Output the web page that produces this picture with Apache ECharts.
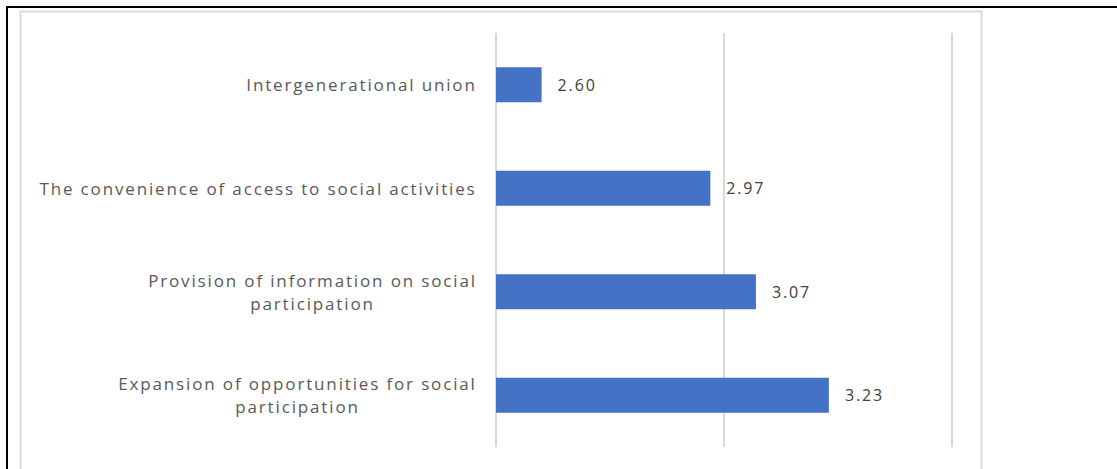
<!DOCTYPE html>
<html>
<head>
<meta charset="utf-8">
<script src="https://cdn.jsdelivr.net/npm/echarts@6/dist/echarts.min.js"></script>
<style>
  html, body { margin: 0; padding: 0; background: #fff; }
  #chart { width: 1117px; height: 469px; }
  /* wide tracking on every text run */
  #chart text { letter-spacing: 1.85px; }
</style>
</head>
<body>
<div id="chart"></div>
<script>
// Category labels (top to bottom) and their mean scores
const categories = [
  ['Intergenerational union'],
  ['The convenience of access to social activities'],
  ['Provision of information on social', 'participation'],
  ['Expansion of opportunities for social', 'participation']
];
const scores = [2.60, 2.97, 3.07, 3.23];
const axisMin = 2.5;
const axisMax = 3.5;
const axisStep = 0.5;

const FONT_SIZE = 17;
const TRACKING = 1.85;
const ctx = document.createElement('canvas').getContext('2d');
ctx.font = FONT_SIZE + 'px "Open Sans"';
const lineWidth = s => ctx.measureText(s).width + s.length * TRACKING;

// Each label block is as wide as its longest line; shorter lines are centred in it.
const labelNames = categories.map(lines => lines.join('\n'));
const labelWidths = categories.map(lines => Math.ceil(Math.max(...lines.map(lineWidth))));

const chart = echarts.init(document.getElementById('chart'), null, { renderer: 'svg' });
chart.setOption({
  animation: false,
  backgroundColor: '#ffffff',
  graphic: [
    { type: 'rect', shape: { x: 7, y: 7, width: 1300, height: 700 }, style: { fill: 'none', stroke: '#000', lineWidth: 2 }, silent: true },
    { type: 'rect', shape: { x: 20.5, y: 11.5, width: 961, height: 700 }, style: { fill: 'none', stroke: '#d9d9d9', lineWidth: 2 }, silent: true }
  ],
  grid: { left: 496, right: 165, top: 33, bottom: 22, containLabel: false },
  xAxis: {
    type: 'value',
    min: axisMin,
    max: axisMax,
    interval: axisStep,
    axisLabel: { show: false },
    axisLine: { show: false },
    axisTick: { show: false },
    splitLine: { show: true, lineStyle: { color: '#d9d9d9', width: 2 } }
  },
  yAxis: {
    type: 'category',
    inverse: true,
    data: labelNames,
    axisLine: { show: false },
    axisTick: { show: false },
    axisLabel: {
      margin: 19,
      formatter: (value, idx) => value.split('\n').map(l => '{t' + idx + '|' + l + '}').join('\n'),
      rich: Object.fromEntries(labelWidths.map((w, i) => ['t' + i, {
        width: w, align: 'center', fontFamily: 'Open Sans', fontSize: FONT_SIZE, color: '#595959', lineHeight: 23
      }]))
    }
  },
  series: [{
    type: 'bar',
    data: scores,
    barWidth: 35,
    itemStyle: { color: '#4472c4' },
    label: {
      show: true,
      position: 'right',
      distance: 16,
      formatter: p => p.value.toFixed(2),
      fontFamily: 'Open Sans',
      fontSize: FONT_SIZE - 1,
      color: '#404040'
    }
  }]
});
</script>
</body>
</html>
